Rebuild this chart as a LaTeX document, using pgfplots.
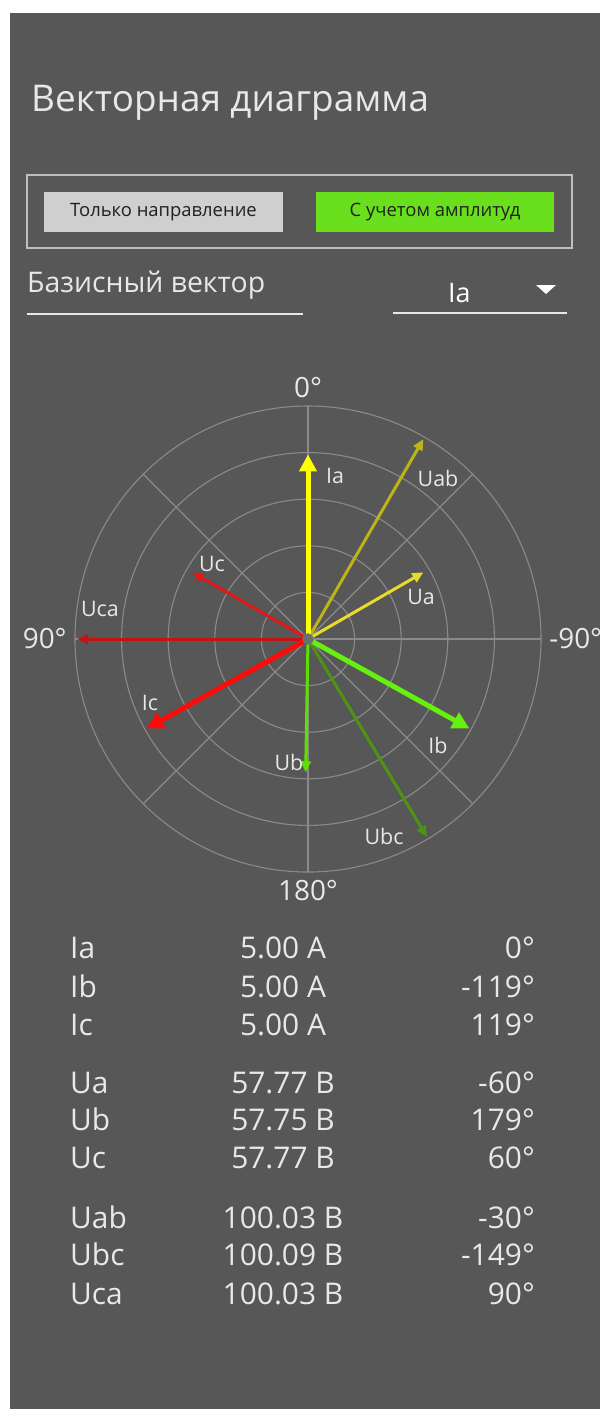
\documentclass[border=0pt]{standalone}
\usepackage{pgfplots}
\usepackage{pgfplotstable}
\pgfplotsset{compat=1.18}
\usepgfplotslibrary{polar}
\usetikzlibrary{arrows.meta}
\usepackage{fontspec}
\setmainfont{Open Sans}

\definecolor{bg}{HTML}{575757}
\definecolor{gridc}{HTML}{8A8A8A}
\definecolor{txt}{HTML}{E8E8E8}
\definecolor{boxc}{HTML}{BEBEBE}
\definecolor{btngrey}{HTML}{CFCFCF}
\definecolor{btngreen}{HTML}{6ADF1E}
\definecolor{btntxt}{HTML}{202020}
\definecolor{cIa}{HTML}{FFFF00}
\definecolor{cIb}{HTML}{66F010}
\definecolor{cIc}{HTML}{FF0A0A}
\definecolor{cUa}{HTML}{E8DC2A}
\definecolor{cUb}{HTML}{5CE000}
\definecolor{cUc}{HTML}{E01818}
\definecolor{cUab}{HTML}{BDB41A}
\definecolor{cUbc}{HTML}{4C9414}
\definecolor{cUca}{HTML}{C21414}
\definecolor{dotc}{HTML}{6E6E6E}

% angle in degrees (0 = up, positive to the left), magnitude
\pgfplotstableread{
ang mag
0 0
0 5.00
}\Ia
\pgfplotstableread{
ang mag
-119 0
-119 5.00
}\Ib
\pgfplotstableread{
ang mag
119 0
119 5.00
}\Ic
\pgfplotstableread{
ang mag
-60 0
-60 57.77
}\Ua
\pgfplotstableread{
ang mag
179 0
179 57.75
}\Ub
\pgfplotstableread{
ang mag
60 0
60 57.77
}\Uc
\pgfplotstableread{
ang mag
-30 0
-30 100.03
}\Uab
\pgfplotstableread{
ang mag
-149 0
-149 100.09
}\Ubc
\pgfplotstableread{
ang mag
90 0
90 100.03
}\Uca

\begin{document}
\begin{tikzpicture}[x=1bp,y=1bp]
\clip (0,0) rectangle (600,-1409);
\fill[white] (0,0) rectangle (600,-1409);
\fill[bg] (10,-13) rectangle (600,-1409);

% header
\node[anchor=base west, inner sep=0, text=txt, font=\fontsize{37}{40}\selectfont] at (31,-112) {Векторная диаграмма};
\draw[boxc, line width=1.5] (27,-175) rectangle (572,-248);
\fill[btngrey] (44,-192) rectangle (283,-232);
\node[text=btntxt, font=\fontsize{18.5}{20}\selectfont] at (163.5,-212) {Только направление};
\fill[btngreen] (316,-192) rectangle (554,-232);
\node[text=btntxt, font=\fontsize{18.5}{20}\selectfont] at (435,-212) {С учетом амплитуд};
\node[anchor=base west, inner sep=0, text=txt, font=\fontsize{28.5}{30}\selectfont] at (27,-292) {Базисный вектор};
\draw[txt, line width=1.5] (27,-314) -- (303,-314);
\node[anchor=base west, inner sep=0, text=white, font=\fontsize{27}{28}\selectfont] at (448,-302) {Ia};
\fill[white] (536,-285) -- (556,-285) -- (546,-294) -- cycle;
\draw[txt, line width=1.5] (393,-313) -- (567,-313);

\begin{polaraxis}[
    at={(308bp,-639bp)}, anchor=center,
    scale only axis, width=466bp, height=466bp,
    ymin=0, ymax=101,
    xtick={0,90,180,270}, xticklabels={-90°,0°,90°,180°},
    minor xtick={45,135,225,315},
    ytick={20.2,40.4,60.6,80.8}, yticklabels={},
    grid=both,
    major grid style={gridc, line width=1.1bp},
    minor grid style={gridc, line width=1.1bp},
    axis line style={gridc, line width=1.1bp},
    tick style={draw=none},
    xticklabel style={text=txt, font=\fontsize{28}{30}\selectfont, outer sep=5bp},
    clip=false,
]
\addplot[cUab, line width=3bp, -{Triangle[length=11bp,width=10bp]}] table[x expr=\thisrow{ang}+90, y=mag] {\Uab};
\addplot[cUbc, line width=3bp, -{Triangle[length=11bp,width=10bp]}] table[x expr=\thisrow{ang}+90, y=mag] {\Ubc};
\addplot[cUca, line width=3bp, -{Triangle[length=11bp,width=10bp]}] table[x expr=\thisrow{ang}+90, y=mag] {\Uca};
\addplot[cUa, line width=3bp, -{Triangle[length=11bp,width=10bp]}] table[x expr=\thisrow{ang}+90, y=mag] {\Ua};
\addplot[cUb, line width=3bp, -{Triangle[length=11bp,width=10bp]}] table[x expr=\thisrow{ang}+90, y=mag] {\Ub};
\addplot[cUc, line width=3bp, -{Triangle[length=11bp,width=10bp]}] table[x expr=\thisrow{ang}+90, y=mag] {\Uc};
\addplot[cIa, line width=5bp, -{Triangle[length=17bp,width=17bp]}] table[x expr=\thisrow{ang}+90, y expr=16*\thisrow{mag}] {\Ia};
\addplot[cIb, line width=5bp, -{Triangle[length=17bp,width=17bp]}] table[x expr=\thisrow{ang}+90, y expr=16*\thisrow{mag}] {\Ib};
\addplot[cIc, line width=5bp, -{Triangle[length=17bp,width=17bp]}] table[x expr=\thisrow{ang}+90, y expr=16*\thisrow{mag}] {\Ic};
\addplot[only marks, mark=*, mark size=5.5bp, mark options={fill=dotc, draw=dotc}] coordinates {(0,0)};
\end{polaraxis}

% vector names
\begin{scope}[every node/.style={text=txt, font=\fontsize{21.5}{22}\selectfont, inner sep=0}]
\node at (335,-476) {Ia};
\node at (438,-478) {Uab};
\node at (212,-564) {Uc};
\node at (100,-609) {Uca};
\node at (421,-597) {Ua};
\node at (150,-703) {Ic};
\node at (438,-745) {Ib};
\node at (289,-762) {Ub};
\node at (384,-836) {Ubc};
\end{scope}

% values table
\begin{scope}[every node/.style={text=txt, font=\fontsize{30}{32}\selectfont, inner sep=0}]
\foreach \n/\v/\a/\y in {Ia/5.00 A/0°/947, Ib/5.00 A/-119°/986, Ic/5.00 A/119°/1024,
  Ua/57.77 B/-60°/1082, Ub/57.75 B/179°/1119, Uc/57.77 B/60°/1157,
  Uab/100.03 B/-30°/1217, Ubc/100.09 B/-149°/1254, Uca/100.03 B/90°/1293} {
  \node[anchor=base west] at (70,-\y-11) {\n};
  \node[anchor=base] at (283,-\y-11) {\v};
  \node[anchor=base east] at (535,-\y-11) {\a};
}
\end{scope}
\end{tikzpicture}
\end{document}
